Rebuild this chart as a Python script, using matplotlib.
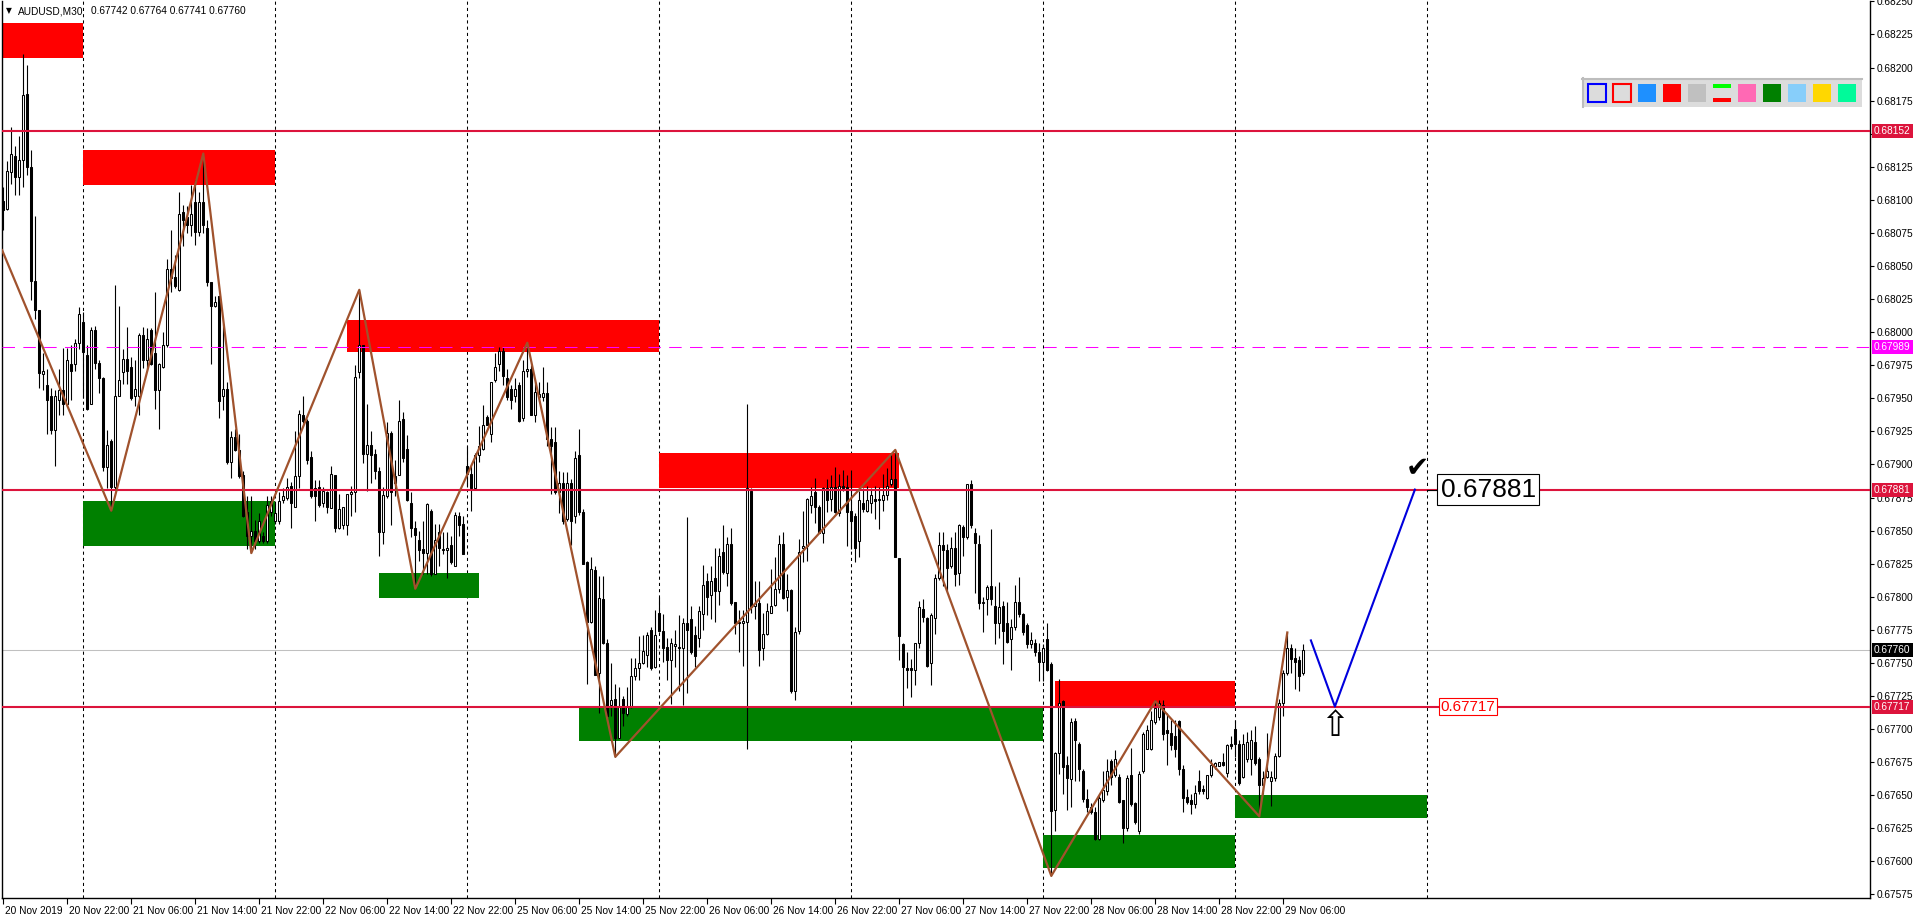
import numpy as np
import matplotlib
matplotlib.use("Agg")
import matplotlib.pyplot as plt
from matplotlib.patches import Rectangle
from matplotlib import transforms

plt.rcParams['font.family'] = ['Liberation Sans', 'DejaVu Sans']

BASE = 0.67  # all *_pts values are points (1e-5) above 0.67000

# AUDUSD M30 candles, bar 0 = 20 Nov 2019 14:00
open_pts = [
    1099, 1093, 1121, 1133, 1117, 1130, 1180, 1125, 1039, 1017, 968, 960, 952, 926, 949, 956, 946, 976, 976, 992,
    1008, 983, 946, 1002, 977, 965, 898, 918, 883, 952, 970, 980, 974, 952, 952, 998, 979, 1002, 984, 956,
    974, 990, 1048, 1042, 1032, 1091, 1087, 1081, 1098, 1076, 1098, 1079, 1038, 1020, 1027, 952, 957, 902, 921, 911,
    892, 864, 846, 850, 842, 846, 842, 864, 857, 857, 873, 875, 884, 868, 891, 937, 933, 906, 882, 883,
    871, 879, 867, 892, 852, 854, 854, 878, 879, 970, 990, 908, 915, 908, 895, 849, 876, 924, 891, 892,
    934, 912, 871, 852, 843, 836, 833, 865, 817, 849, 835, 835, 839, 823, 861, 855, 899, 893, 882, 907,
    912, 936, 923, 964, 976, 986, 965, 957, 952, 960, 935, 971, 972, 937, 951, 951, 954, 919, 917, 879,
    886, 859, 886, 861, 907, 864, 826, 781, 820, 742, 798, 765, 718, 723, 693, 723, 711, 717, 740, 746,
    750, 756, 775, 747, 788, 774, 762, 752, 763, 761, 761, 780, 783, 771, 769, 787, 812, 801, 814, 804,
    834, 818, 840, 796, 781, 781, 781, 880, 793, 795, 761, 772, 788, 794, 806, 840, 800, 805, 729, 774,
    837, 838, 869, 879, 868, 848, 882, 874, 883, 863, 884, 883, 865, 861, 842, 871, 865, 871, 874, 873,
    873, 877, 885, 889, 829, 764, 746, 746, 745, 765, 791, 784, 750, 784, 814, 839, 835, 823, 837, 818,
    853, 845, 885, 848, 840, 795, 798, 808, 793, 780, 793, 780, 768, 777, 796, 787, 779, 764, 765, 758,
    751, 768, 749, 639, 682, 721, 673, 662, 706, 689, 668, 647, 641, 637, 617, 646, 653, 676, 665, 664,
    646, 625, 665, 644, 623, 668, 685, 685, 705, 709, 718, 699, 697, 695, 706, 670, 649, 646, 643, 661,
    655, 648, 665, 672, 672, 675, 667, 689, 700, 689, 664, 677, 677, 690, 677, 658, 664, 661, 663, 680,
    720, 742, 761, 754, 752, 742]
high_pts = [
    1110, 1129, 1155, 1141, 1148, 1210, 1202, 1138, 1088, 1017, 984, 972, 958, 956, 972, 988, 988, 990, 995, 1019,
    1015, 990, 1004, 1005, 979, 966, 926, 919, 1036, 1020, 987, 1004, 981, 979, 999, 1004, 1003, 1003, 1030, 977,
    1000, 1055, 1077, 1058, 1106, 1096, 1095, 1111, 1115, 1106, 1135, 1085, 1038, 1027, 1027, 1006, 962, 925, 927, 923,
    895, 876, 876, 858, 863, 849, 876, 876, 871, 879, 882, 890, 887, 925, 941, 952, 934, 910, 888, 888,
    883, 880, 899, 892, 878, 868, 878, 884, 975, 1032, 990, 946, 925, 912, 898, 883, 932, 925, 903, 949,
    940, 922, 879, 857, 850, 857, 871, 866, 855, 855, 849, 849, 846, 864, 864, 861, 914, 899, 909, 929,
    945, 937, 962, 984, 989, 989, 972, 960, 965, 962, 979, 992, 975, 962, 962, 974, 962, 928, 928, 895,
    894, 894, 889, 910, 927, 866, 827, 830, 823, 816, 816, 768, 750, 734, 732, 725, 732, 754, 754, 770,
    771, 773, 777, 790, 800, 787, 769, 769, 775, 786, 784, 860, 793, 778, 793, 824, 818, 823, 837, 837,
    854, 845, 852, 796, 790, 790, 946, 882, 812, 812, 788, 795, 821, 830, 847, 849, 817, 806, 777, 844,
    865, 875, 883, 890, 869, 883, 889, 892, 898, 893, 896, 892, 896, 863, 880, 882, 884, 882, 884, 883,
    893, 897, 908, 911, 829, 765, 758, 753, 765, 797, 798, 785, 788, 817, 849, 849, 840, 845, 849, 855,
    854, 885, 888, 852, 847, 800, 809, 851, 808, 811, 797, 796, 783, 809, 815, 788, 780, 773, 768, 765,
    764, 780, 751, 683, 738, 722, 680, 708, 708, 690, 670, 655, 644, 641, 650, 668, 677, 677, 684, 666,
    646, 665, 686, 645, 668, 698, 703, 714, 722, 722, 722, 712, 707, 707, 707, 673, 655, 651, 658, 669,
    658, 665, 677, 675, 675, 682, 689, 695, 707, 692, 696, 698, 699, 702, 679, 668, 697, 668, 682, 723,
    745, 773, 764, 761, 755, 764]
low_pts = [
    1077, 1092, 1112, 1104, 1104, 1110, 1119, 1024, 1010, 958, 956, 923, 923, 899, 937, 937, 944, 949, 971, 987,
    950, 941, 946, 972, 954, 895, 882, 865, 881, 952, 961, 961, 949, 944, 937, 973, 972, 975, 942, 927,
    973, 989, 1030, 1033, 1031, 1065, 1075, 1073, 1066, 1073, 1075, 1035, 976, 1019, 935, 941, 900, 890, 910, 890,
    860, 836, 833, 836, 841, 841, 841, 861, 855, 855, 871, 873, 852, 868, 882, 931, 900, 875, 857, 868,
    868, 863, 867, 849, 851, 851, 847, 861, 864, 965, 901, 880, 886, 889, 831, 840, 875, 854, 876, 892,
    902, 872, 845, 806, 827, 817, 817, 816, 817, 823, 832, 814, 825, 823, 846, 832, 883, 865, 881, 902,
    911, 930, 917, 962, 971, 960, 949, 942, 947, 932, 933, 966, 937, 932, 948, 948, 914, 878, 878, 863,
    855, 857, 839, 856, 862, 825, 734, 780, 741, 712, 764, 710, 710, 679, 693, 702, 710, 716, 737, 737,
    749, 747, 745, 746, 773, 751, 737, 719, 747, 729, 718, 727, 757, 747, 762, 775, 786, 783, 781, 794,
    817, 808, 794, 772, 758, 748, 685, 788, 783, 748, 752, 771, 788, 793, 803, 798, 789, 727, 722, 772,
    826, 827, 863, 856, 848, 841, 864, 865, 863, 861, 880, 838, 836, 826, 830, 864, 864, 863, 859, 851,
    865, 873, 884, 830, 752, 717, 731, 724, 733, 761, 781, 747, 733, 772, 813, 808, 804, 822, 808, 809,
    831, 844, 852, 803, 791, 773, 786, 794, 764, 769, 749, 765, 745, 775, 785, 771, 761, 761, 755, 736,
    736, 744, 589, 623, 666, 651, 639, 641, 661, 661, 645, 637, 636, 616, 616, 645, 650, 658, 664, 644,
    614, 623, 642, 628, 621, 667, 685, 684, 704, 707, 692, 673, 684, 679, 665, 637, 643, 636, 640, 651,
    651, 647, 664, 670, 672, 672, 664, 685, 679, 658, 663, 675, 665, 673, 635, 651, 663, 642, 661, 679,
    710, 741, 742, 730, 729, 741]
close_pts = [
    1092, 1122, 1135, 1117, 1130, 1179, 1125, 1039, 1017, 969, 971, 949, 926, 952, 956, 946, 979, 971, 992, 1014,
    985, 942, 1002, 977, 965, 898, 915, 883, 952, 964, 980, 971, 950, 957, 998, 979, 995, 976, 956, 976,
    990, 1048, 1041, 1035, 1089, 1085, 1081, 1089, 1076, 1098, 1081, 1038, 1020, 1023, 948, 957, 902, 921, 911, 891,
    861, 846, 850, 842, 857, 842, 869, 872, 863, 872, 876, 883, 871, 891, 938, 933, 903, 876, 876, 869,
    880, 868, 893, 852, 866, 868, 878, 879, 966, 990, 908, 915, 907, 895, 849, 877, 924, 879, 886, 933,
    905, 873, 852, 847, 835, 833, 870, 817, 843, 837, 836, 837, 826, 862, 854, 832, 893, 882, 907, 914,
    930, 930, 962, 974, 986, 967, 951, 949, 957, 933, 971, 972, 937, 955, 953, 954, 919, 914, 879, 886,
    857, 886, 857, 905, 864, 825, 781, 821, 741, 799, 765, 710, 722, 693, 717, 712, 717, 740, 746, 750,
    759, 771, 746, 771, 774, 761, 752, 765, 764, 762, 780, 775, 758, 755, 789, 809, 800, 812, 804, 831,
    819, 840, 795, 780, 780, 781, 882, 792, 795, 760, 772, 789, 793, 806, 840, 799, 805, 729, 773, 834,
    838, 874, 876, 868, 848, 882, 873, 883, 864, 884, 882, 864, 857, 837, 873, 866, 873, 877, 872, 874,
    877, 884, 889, 830, 770, 747, 745, 745, 765, 792, 785, 748, 786, 814, 839, 835, 822, 837, 817, 854,
    845, 885, 854, 841, 795, 796, 807, 798, 780, 792, 774, 766, 777, 796, 787, 773, 764, 767, 758, 751,
    761, 745, 638, 682, 720, 671, 663, 705, 692, 670, 647, 641, 637, 617, 648, 654, 668, 664, 677, 645,
    625, 663, 643, 630, 666, 696, 699, 707, 716, 720, 696, 697, 688, 685, 670, 648, 645, 643, 652, 653,
    653, 665, 673, 674, 675, 673, 688, 687, 689, 659, 689, 690, 692, 674, 658, 663, 668, 664, 680, 720,
    742, 761, 753, 751, 740, 760]

# time axis labels, one every 16 bars (8 hours)
x_labels = ['20 Nov 2019', '20 Nov 22:00', '21 Nov 06:00', '21 Nov 14:00', '21 Nov 22:00',
            '22 Nov 06:00', '22 Nov 14:00', '22 Nov 22:00', '25 Nov 06:00', '25 Nov 14:00',
            '25 Nov 22:00', '26 Nov 06:00', '26 Nov 14:00', '26 Nov 22:00', '27 Nov 06:00',
            '27 Nov 14:00', '27 Nov 22:00', '28 Nov 06:00', '28 Nov 14:00', '28 Nov 22:00',
            '29 Nov 06:00']
day_start_bars = [20, 68, 116, 164, 212, 260, 308, 356]

# zigzag swing points (bar, points)
zigzag_bar = [-0.3, 27, 50, 62, 89, 103, 131, 153, 223, 262, 288, 314, 321]
zigzag_pts = [1062, 865, 1135, 833, 1032, 806, 992, 679, 911, 589, 721, 634, 773]

# supply / demand zones
red_start = [-1, 20, 86, 164, 263]
red_end = [20, 68, 164, 223.9, 308]
red_top = [1234, 1138, 1009, 909, 736]
red_bottom = [1207, 1111, 985, 882, 717]
green_start = [20, 94, 144, 260, 308]
green_end = [68, 119, 260, 308, 356]
green_top = [872, 818, 716, 620, 650]
green_bottom = [838, 799, 691, 595, 633]

# horizontal levels
level_lines = [0.68152, 0.67881, 0.67717]
pink_level = 0.67989
bid_price = 0.67760

# blue forecast path
forecast_bar = [326.9, 332.9, 352.9]
forecast_price = [0.67767, 0.67717, 0.67881]
target_price = 0.67881
entry_price = 0.67717

axis_tag_prices = [0.68152, 0.67989, 0.67881, 0.67760, 0.67717]
axis_tag_colors = ['#DC143C', '#FF00FF', '#DC143C', '#000000', '#DC143C']

palette = ['#1E90FF', '#FF0000', '#C0C0C0', None, '#FF69B4', '#008000', '#87CEFA', '#FFD700', '#00FA9A']


def to_price(v):
    return BASE + np.asarray(v, dtype=float) / 1e5


W, H = 1916, 923
fig = plt.figure(figsize=(W / 100, H / 100), dpi=100, facecolor='white')
L, R, T, B = 2, 1870, 1, 898
ax = fig.add_axes([L / W, (H - B) / H, (R - L) / W, (B - T) / H])
X0, BW = 3.3, 4.0
ax.set_xlim((L - X0) / BW, (R - X0) / BW)
ax.set_ylim(0.675723, 0.682503)

# day separators
for d in day_start_bars:
    ax.axvline(d, color='black', lw=0.75, ls=(0, (3, 3)), zorder=1)

# zones
for x0, x1, t, b in zip(red_start, red_end, red_top, red_bottom):
    ax.add_patch(Rectangle((x0, to_price(b)), x1 - x0, to_price(t) - to_price(b),
                           fc='#FF0000', ec='none', zorder=2))
for x0, x1, t, b in zip(green_start, green_end, green_top, green_bottom):
    ax.add_patch(Rectangle((x0, to_price(b)), x1 - x0, to_price(t) - to_price(b),
                           fc='#008000', ec='none', zorder=2))

ax.axhline(bid_price, color='#C0C0C0', lw=0.75, zorder=2.5)

# candles
o, h, l, c = (to_price(a) for a in (open_pts, high_pts, low_pts, close_pts))
idx = np.arange(len(o))
top = np.maximum(h, np.maximum(o, c))
bot = np.minimum(l, np.minimum(o, c))
ax.vlines(idx, bot, top, color='black', lw=0.8, zorder=3)
body = np.abs(c - o)
min_body = 0.000010
body_h = np.maximum(body, min_body)
body_b = np.minimum(o, c) - (body_h - body) / 2
bull = c >= o
ax.bar(idx, body_h, bottom=body_b, width=0.5, color=np.where(bull, 'white', 'black'),
       edgecolor='black', linewidth=0.75, zorder=3.1)

# levels
for lv in level_lines:
    ax.axhline(lv, color='#DC143C', lw=1.5, zorder=4)
ax.axhline(pink_level, color='#FF00FF', lw=0.75, ls=(0, (12, 8)), zorder=4)

ax.plot(zigzag_bar, to_price(zigzag_pts), color='#A0522D', lw=1.6, zorder=5)
ax.plot(forecast_bar, forecast_price, color='#0000DD', lw=1.5, zorder=5)

ax.text(forecast_bar[2] + 0.6, target_price + 0.00016, '\u2714', fontsize=20, ha='center', va='center',
        family='DejaVu Sans', zorder=6)
ax.text(forecast_bar[1], entry_price - 0.00015, '\u21e7', fontsize=25, ha='center', va='center',
        family='DejaVu Sans', zorder=6)
ax.plot([355.9, 358.8], [target_price, target_price], color='black', lw=0.8, zorder=5.5)
ax.text(359.3, target_price, f'{target_price:.5f}', fontsize=19, ha='left', va='center', zorder=6,
        bbox=dict(boxstyle='square,pad=0.12', fc='white', ec='black', lw=0.8))
ax.text(359.3, entry_price, f'{entry_price:.5f}', fontsize=11, color='#FF0000', ha='left', va='center',
        zorder=6, bbox=dict(boxstyle='square,pad=0.1', fc='white', ec='#FF0000', lw=0.8))

# axes styling
ax.yaxis.tick_right()
yt = [0.67575 + 0.00025 * k for k in range(28)]
ax.set_yticks(yt)
ax.set_yticklabels([f'{v:.5f}' for v in yt])
ax.tick_params(axis='y', direction='out', length=3, width=0.8, pad=2, labelsize=7.3)
ax.set_xticks(np.arange(len(x_labels)) * 16)
ax.set_xticklabels(x_labels, ha='left')
ax.tick_params(axis='x', direction='out', length=4, width=0.8, pad=2, labelsize=7.3)
shift = transforms.ScaledTranslation(2 / 100, 0, fig.dpi_scale_trans)
for lbl in ax.get_xticklabels():
    lbl.set_transform(lbl.get_transform() + shift)
ax.spines['top'].set_visible(False)
for s in ('left', 'right', 'bottom'):
    ax.spines[s].set_linewidth(1.0)

# coloured price tags on the price scale
trans = transforms.blended_transform_factory(transforms.IdentityTransform(), ax.transData)
for p, col in zip(axis_tag_prices, axis_tag_colors):
    ax.text(1874, p, f'{p:.5f}', transform=trans, ha='left', va='center', fontsize=7.3, color='white',
            zorder=10, clip_on=False, bbox=dict(boxstyle='square,pad=0.2', fc=col, ec='none'))

# overlay in pixel coordinates: header and object palette
ov = fig.add_axes([0, 0, 1, 1])
ov.set_xlim(0, W)
ov.set_ylim(H, 0)
ov.axis('off')
ov.patch.set_alpha(0)
ov.text(6, 11, '\u25bc', fontsize=5.5, va='center', family='DejaVu Sans')
ov.text(18, 11, 'AUDUSD,M30', fontsize=7.3, va='center')
last = [open_pts[-1], high_pts[-1], low_pts[-1], close_pts[-1]]
ov.text(91, 11, ' '.join(f'{BASE + v / 1e5:.5f}' for v in last), fontsize=7.3, va='center')

ov.add_patch(Rectangle((1582, 78), 280, 29, fc='#DCDCDC', ec='none'))
ov.plot([1582, 1862], [79, 79], color='#BDBDBD', lw=1.5)
ov.plot([1583, 1583], [78, 107], color='#BDBDBD', lw=1.5)
ov.add_patch(Rectangle((1588, 84), 18, 18, fc='none', ec='#0000FF', lw=1.5))
ov.add_patch(Rectangle((1613, 84), 18, 18, fc='none', ec='#FF0000', lw=1.5))
for k, col in enumerate(palette):
    x = 1638 + 25 * k
    if col is None:
        ov.add_patch(Rectangle((x, 84), 18, 4, fc='#00FF00', ec='none'))
        ov.add_patch(Rectangle((x, 98), 18, 4, fc='#FF0000', ec='none'))
    else:
        ov.add_patch(Rectangle((x, 84), 18, 18, fc=col, ec='none'))

fig.savefig('out.png', dpi=100, facecolor='white')
